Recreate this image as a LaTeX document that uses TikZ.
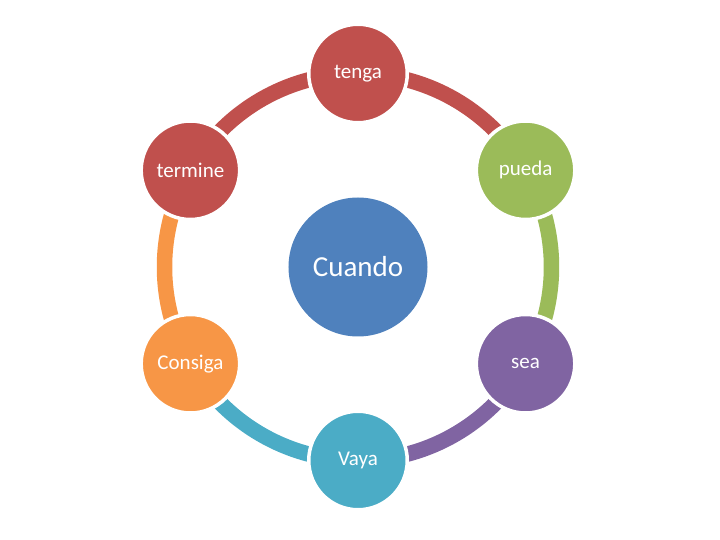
\documentclass[tikz,border=0pt]{standalone}
\usepackage{fontspec}
\setmainfont{Carlito}
\definecolor{ringred}{HTML}{C0504D}
\definecolor{ringgreen}{HTML}{9BBB59}
\definecolor{ringpurple}{HTML}{8064A2}
\definecolor{ringcyan}{HTML}{4BACC6}
\definecolor{ringorange}{HTML}{F79646}
\definecolor{ringblue}{HTML}{4F81BD}

\begin{document}
\begin{tikzpicture}[x=1pt,y=1pt,
    petal/.style={circle,fill=#1,draw=white,line width=3.5pt,minimum size=98.5pt,inner sep=0pt,
        text=white,font=\fontsize{21}{25}\selectfont},
    band/.style={draw=#1,line width=15.5pt}]
    \useasboundingbox (-358,-273) rectangle (362,267);

    % points on the ring
    \foreach \X [count=\Y starting from 0] in {tenga,pueda,sea,Vaya,Consiga,termine}
    {\coordinate (p\X) at ({90-60*\Y}:193.5);}

    % coloured bands between the outer circles
    \foreach \X/\C [count=\Y starting from 0] in {tenga/ringred,pueda/ringgreen,sea/ringpurple,Vaya/ringcyan,Consiga/ringorange,termine/ringred}
    {\path[band=\C] (p\X) arc[start angle={90-60*\Y}, end angle={30-60*\Y}, radius=193.5];}

    % outer circles
    \foreach \X/\C in {tenga/ringred,pueda/ringgreen,sea/ringpurple,Vaya/ringcyan,Consiga/ringorange,termine/ringred}
    {\node[petal=\C] (\X) at (p\X) {\X};}

    \node[circle,fill=ringblue,minimum size=139pt,inner sep=0pt,text=white,
        font=\fontsize{29}{34}\selectfont] (cuando) at (0,0) {Cuando}; %centre
\end{tikzpicture}
\end{document}
